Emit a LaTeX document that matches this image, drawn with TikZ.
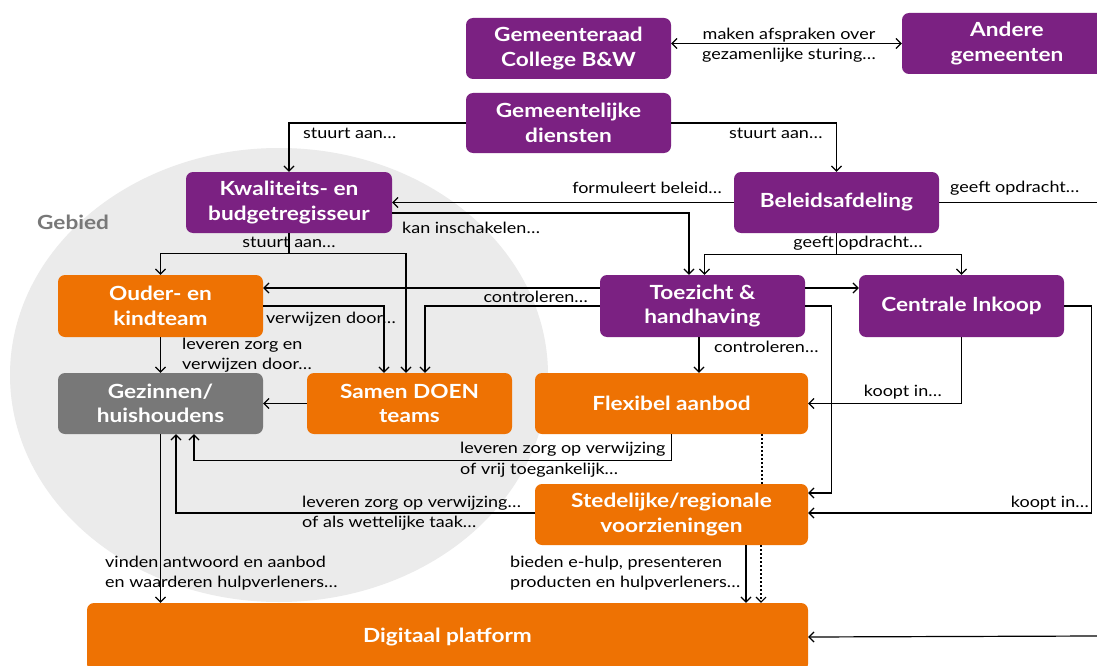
\documentclass[tikz,border=0pt]{standalone}
\usepackage{fontspec}
\setmainfont{Lato}[FakeStretch=1.16]
\usetikzlibrary{arrows.meta,calc}
\definecolor{paars}{HTML}{7B2182}
\definecolor{oranje}{HTML}{EE7203}
\definecolor{grijs}{HTML}{787878}
\definecolor{gebied}{HTML}{EBEBEB}
\begin{document}
\begin{tikzpicture}[x=1pt,y=-1pt,
  box/.style={rounded corners=7pt, draw=none, text=white, align=center,
    font=\fontsize{19.5}{24.5}\selectfont\bfseries, inner sep=0pt},
  pbox/.style={box, fill=paars, minimum width=205pt, minimum height=61pt},
  obox/.style={box, fill=oranje, minimum width=205pt, minimum height=61pt},
  gbox/.style={box, fill=grijs, minimum width=205pt, minimum height=61pt},
  lbl/.style={font=\fontsize{15.5}{20.5}\selectfont, text=black, inner sep=0pt, align=left},
  arr/.style={draw=black, line width=1.2pt, -{Straight Barb[length=5pt,width=10pt]}},
  ln/.style={draw=black, line width=1.2pt},
  dblarr/.style={draw=black, line width=1.2pt, {Straight Barb[length=5pt,width=10pt]}-{Straight Barb[length=5pt,width=10pt]}},
  dotarr/.style={draw=black, line width=1.1pt, dash pattern=on 2pt off 2pt, -{Straight Barb[length=5pt,width=10pt]}},
  dotln/.style={draw=black, line width=1.1pt, dash pattern=on 2pt off 2pt}]
\useasboundingbox (0,0) rectangle (1097,666);
\clip (0,0) rectangle (1097,666);
\fill[white] (0,0) rectangle (1097,666);
\fill[gebied] (279,375) ellipse [x radius=269, y radius=227];
\node[font=\fontsize{19.5}{24}\selectfont\bfseries, text=grijs, anchor=west, inner sep=0pt] (gebiedlbl) at (37,222) {Gebied};

% boxes
\node[pbox] (gem) at (568.5,48.5) {Gemeenteraad\\College B\&W};
\node[pbox, minimum width=210pt] (and) at (1007,43.5) {Andere\\gemeenten};
\node[pbox, minimum height=60pt] (dien) at (568.5,123) {Gemeentelijke\\diensten};
\node[pbox, minimum width=206pt] (kwal) at (289,202.5) {Kwaliteits- en\\budgetregisseur};
\node[pbox] (bel) at (836.5,202.5) {Beleidsafdeling};
\node[obox, minimum height=62pt] (ouder) at (160.5,306) {Ouder- en\\kindteam};
\node[pbox, minimum height=62pt] (toez) at (702.5,306) {Toezicht \&\\handhaving};
\node[pbox, minimum height=62pt] (cent) at (961.5,306) {Centrale Inkoop};
\node[gbox] (gez) at (160.5,403.5) {Gezinnen/\\huishoudens};
\node[obox] (samen) at (409.5,403.5) {Samen DOEN\\teams};
\node[obox, minimum width=273pt] (flex) at (671.5,403.5) {Flexibel aanbod};
\node[obox, minimum width=273pt] (sted) at (671.5,514.5) {Stedelijke/regionale\\voorzieningen};
\node[obox, minimum width=721pt, minimum height=68pt] (dig) at (447.5,637) {Digitaal platform};

\coordinate (R1) at (1097,202.5);
\coordinate (R2) at (1097,636);

% connectors
\draw[dblarr] (gem.east |- and.west) -- (and.west);
\node[lbl, align=center] (l1) at (789,45) {maken afspraken over\\gezamenlijke sturing…};

\draw[arr] (dien.west) -| (kwal.north);
\node[lbl, anchor=west] (l2) at (303,133) {stuurt aan…};
\draw[arr] (dien.east) -| (bel.north);
\node[lbl, anchor=west] (l3) at (729,133) {stuurt aan…};

\draw[arr] (bel.west) -- (kwal.east);
\node[lbl, anchor=east] (l4) at (722,188) {formuleert beleid…};
\draw[ln] (bel.east) -- (R1);
\node[lbl, anchor=west] (l5) at (950,188) {geeft opdracht…};

\draw[arr] ([yshift=-10.5pt]kwal.east) -| ([xshift=-13.5pt]toez.north);
\node[lbl, anchor=west] (l6) at (402,228) {kan inschakelen…};

\draw[ln] (bel.south) -- ++(0,21) coordinate (b1);
\draw[arr] (b1) -| ([xshift=2pt]toez.north);
\draw[arr] (b1) -| (cent.north);
\node[lbl] (l7) at (858,243) {geeft opdracht…};

\draw[ln] (kwal.south) -- ++(0,20) coordinate (k1);
\draw[arr] (k1) -| (ouder.north);
\draw[arr] (k1) -| ([xshift=-3.5pt]samen.north);
\node[lbl] (l8) at (289,242) {stuurt aan…};

\draw[arr] ([yshift=18pt]toez.east) -- ([yshift=18pt]cent.west);
\draw[arr] (toez.east) -- ++(26,0) |- ([yshift=21.5pt]sted.east);
\draw[arr] ([yshift=18pt]toez.west) -- ([yshift=18pt]ouder.east);
\node[lbl, anchor=east] (l9) at (588,297) {controleren…};
\draw[arr] (toez.west) -| ([xshift=15.5pt]samen.north);

\draw[arr] (ouder.east) -| ([xshift=-25.5pt]samen.north);
\node[lbl, anchor=west] (l10) at (266,319) {verwijzen door…};
\draw[arr] (ouder.south) -- (gez.north);
\node[lbl, anchor=west] (l11) at (182,355) {leveren zorg en\\verwijzen door…};
\draw[arr] (samen.west) -- (gez.east);

\draw[arr] (cent.south) |- (flex.east);
\node[lbl, anchor=east] (l12) at (942,392) {koopt in…};
\draw[arr] (cent.east) -- ++(27,0) |- ([yshift=1.5pt]sted.east);
\node[lbl, anchor=east] (l13) at (1089,503) {koopt in…};

\draw[arr] ([xshift=-3.5pt]toez.south) -- ([xshift=-3.5pt]toez.south |- flex.north);
\node[lbl, anchor=west] (l14) at (714,347) {controleren…};

\draw[arr] (flex.south) -- ++(0,26) -| ([xshift=33.5pt]gez.south);
\node[lbl, anchor=west] (l15) at (460,449) {leveren zorg op verwijzing};
\node[lbl, anchor=west] (l16) at (460,470) {of vrij toegankelijk…};

\draw[arr] ([yshift=1.5pt]sted.west) -| ([xshift=15.5pt]gez.south);
\node[lbl, anchor=west] (l17) at (302,503) {leveren zorg op verwijzing…};
\node[lbl, anchor=west] (l18) at (302,523) {of als wettelijke taak…};

\draw[dotln] ([xshift=90.5pt]flex.south) -- ([xshift=90.5pt]sted.north);
\draw[dotarr] ([xshift=89.5pt]sted.south) -- ([xshift=89.5pt]sted.south |- dig.north);
\draw[arr] ([xshift=74.5pt]sted.south) -- ([xshift=74.5pt]sted.south |- dig.north);
\node[lbl, anchor=west] (l19) at (510,573) {bieden e-hulp, presenteren\\producten en hulpverleners…};

\draw[arr] (gez.south) -- (gez.south |- dig.north);
\node[lbl, anchor=west] (l20) at (105,573) {vinden antwoord en aanbod\\en waarderen hulpverleners…};

\draw[arr] (R2) -- (dig.east);
\end{tikzpicture}
\end{document}
